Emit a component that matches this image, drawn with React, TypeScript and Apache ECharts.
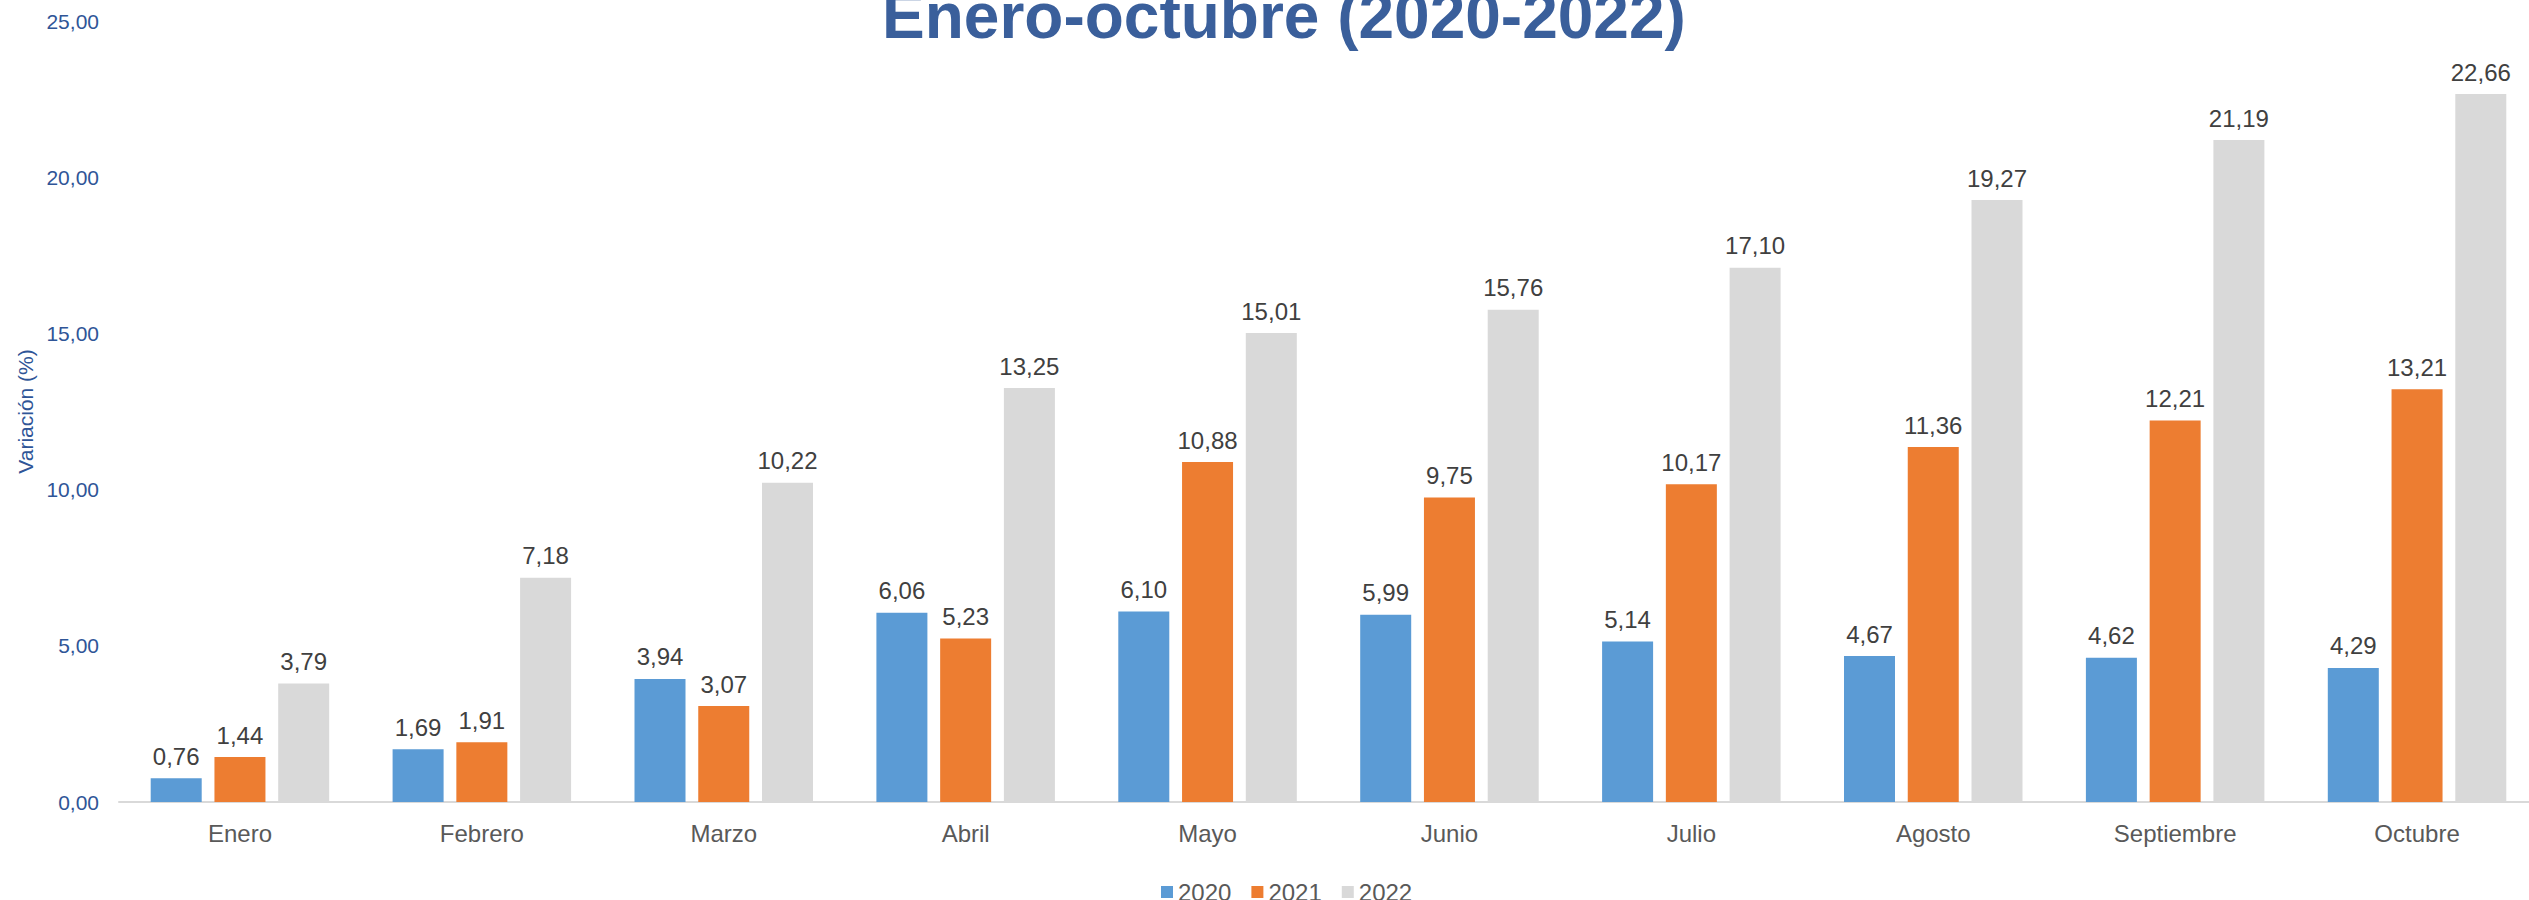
import React, { useEffect, useRef } from "react";
import * as echarts from "echarts";

const categories = ["Enero", "Febrero", "Marzo", "Abril", "Mayo", "Junio", "Julio", "Agosto", "Septiembre", "Octubre"];
const seriesNames = ["2020", "2021", "2022"];
const values2020 = [0.76, 1.69, 3.94, 6.06, 6.10, 5.99, 5.14, 4.67, 4.62, 4.29];
const values2021 = [1.44, 1.91, 3.07, 5.23, 10.88, 9.75, 10.17, 11.36, 12.21, 13.21];
const values2022 = [3.79, 7.18, 10.22, 13.25, 15.01, 15.76, 17.10, 19.27, 21.19, 22.66];
const colors = ["#5B9BD5", "#ED7D31", "#D9D9D9"];
const titleText = "Enero-octubre (2020-2022)";
const yAxisTitle = "Variación (%)";

const FONT = "'Liberation Sans', Arial, sans-serif";
const fmt = (v: number) => v.toFixed(2).replace(".", ",");

export default function App() {
  const ref = useRef<HTMLDivElement>(null);
  useEffect(() => {
    if (!ref.current) return;
    const chart = echarts.init(ref.current, null, { renderer: "svg" });
    const allValues = [values2020, values2021, values2022];
    chart.setOption({
      animation: false,
      backgroundColor: "#FFFFFF",
      textStyle: { fontFamily: FONT },
      title: {
        text: titleText,
        left: 882,
        top: -16,
        padding: 0,
        textStyle: { fontFamily: FONT, fontSize: 64, fontWeight: "bold", color: "#3A5F9B" },
      },
      legend: {
        data: seriesNames,
        left: 1161,
        top: 880,
        padding: 0,
        icon: "rect",
        itemWidth: 12,
        itemHeight: 12,
        itemGap: 20,
        textStyle: { fontFamily: FONT, fontSize: 24, color: "#595959" },
      },
      grid: { left: 119, width: 2419, top: 21, bottom: 98, containLabel: false },
      xAxis: {
        type: "category",
        data: categories,
        axisLine: { lineStyle: { color: "#D9D9D9", width: 2 } },
        axisTick: { show: false },
        axisLabel: { fontFamily: FONT, fontSize: 24, color: "#595959", margin: 19 },
      },
      yAxis: {
        type: "value",
        min: 0,
        max: 25,
        interval: 5,
        name: yAxisTitle,
        nameLocation: "middle",
        nameRotate: 90,
        nameGap: 78,
        nameTextStyle: { fontFamily: FONT, fontSize: 21, color: "#2F5597" },
        axisLine: { show: false },
        axisTick: { show: false },
        splitLine: { show: false },
        axisLabel: {
          fontFamily: FONT,
          fontSize: 21,
          color: "#2F5597",
          margin: 20,
          formatter: (v: number) => fmt(v),
        },
      },
      series: seriesNames.map((name, i) => ({
        name,
        type: "bar",
        data: allValues[i],
        barWidth: 51,
        barGap: "25%",
        itemStyle: { color: colors[i] },
        label: {
          show: true,
          position: "top",
          distance: 10,
          fontFamily: FONT,
          fontSize: 24,
          color: "#404040",
          formatter: (p: any) => fmt(p.value),
        },
      })),
    });
    return () => chart.dispose();
  }, []);
  return (
    <div
      style={{ position: "absolute", left: 0, top: 0, width: 2529, height: 900, overflow: "hidden", background: "#FFFFFF" }}
    >
      <div ref={ref} style={{ width: 2550, height: 900 }} />
    </div>
  );
}
